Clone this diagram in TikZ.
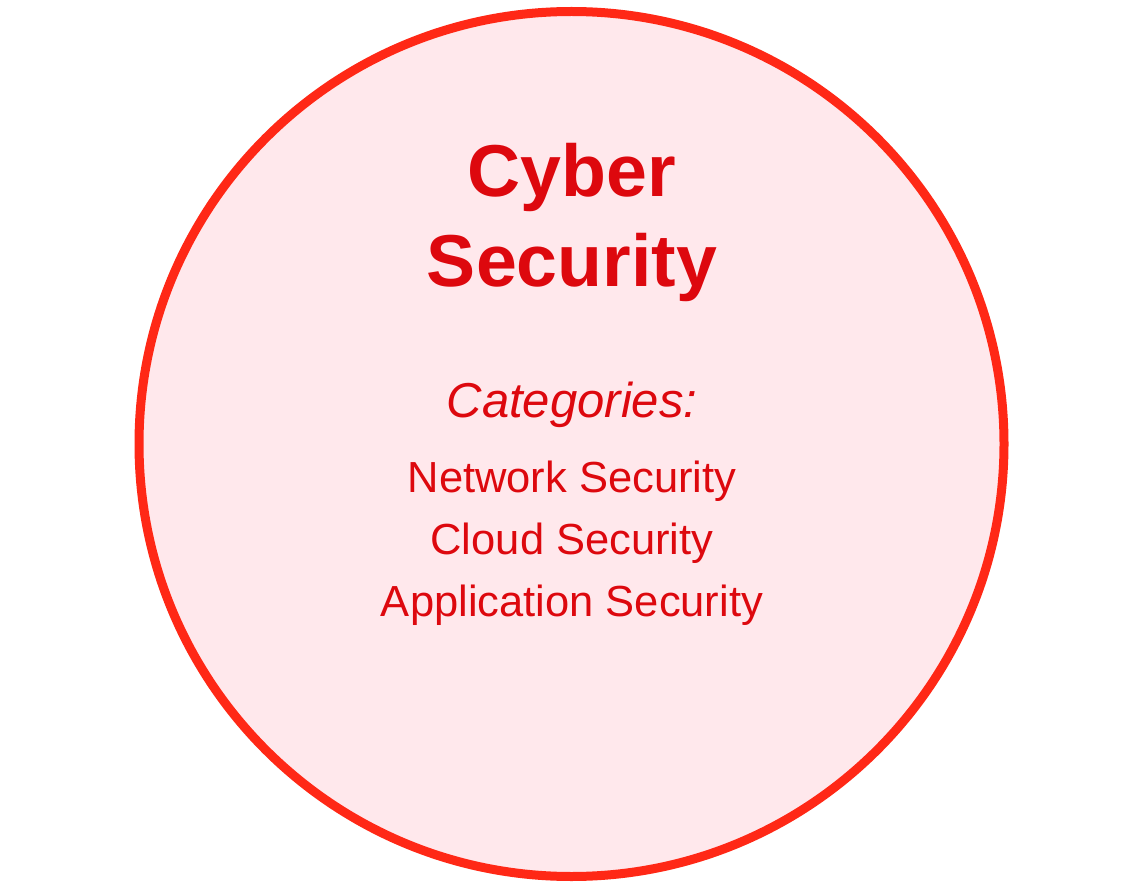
\documentclass[tikz,border=0pt]{standalone}
\usepackage{fontspec}
\setmainfont{Liberation Sans}
\definecolor{ringred}{RGB}{255,40,22}
\definecolor{ringfill}{RGB}{255,232,236}
\definecolor{textred}{RGB}{221,8,14}
\tikzset{
  titletext/.style={anchor=base, text=textred, font=\fontsize{73.5}{88}\selectfont\bfseries, inner sep=0pt},
  cattext/.style={anchor=base, text=textred, font=\fontsize{49}{59}\selectfont\itshape, inner sep=0pt},
  itemtext/.style={anchor=base, text=textred, font=\fontsize{43.5}{52}\selectfont, inner sep=0pt}
}
\begin{document}
\begin{tikzpicture}[x=1pt, y=-1pt]
      % Fix the page size
      \useasboundingbox (0, 0) rectangle (1145, 882);

      % Draw the big circle
      \filldraw[fill=ringfill, draw=ringred, line width=9pt] (571.5, 444) circle (432.5);

      % Title
      \node[titletext] (cyber) at (572, 197) {Cyber};
      \node[titletext] (security) at (572, 287) {Security};

      % Categories
      \node[cattext] (categories) at (572, 417) {Categories:};
      \node[itemtext] (network) at (572, 492) {Network Security};
      \node[itemtext] (cloud) at (572, 554) {Cloud Security};
      \node[itemtext] (application) at (572, 616) {Application Security};
\end{tikzpicture}
\end{document}
